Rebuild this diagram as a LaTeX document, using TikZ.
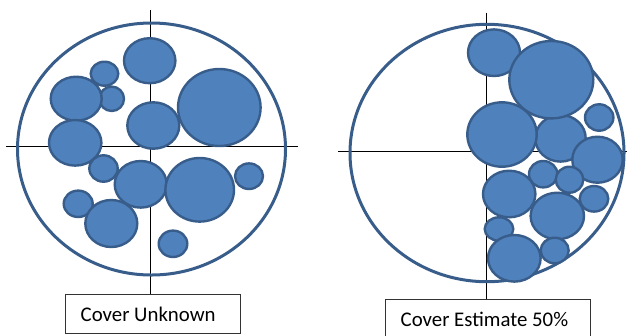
\documentclass[tikz,border=0pt]{standalone}
\usepackage{fontspec}
\setmainfont{Carlito}
\definecolor{cellfill}{HTML}{4F81BD}
\definecolor{celledge}{HTML}{385D8A}
\tikzset{
  x=1bp, y=-1bp,
  cell/.style={fill=cellfill, draw=celledge, line width=2.4bp},
  plot/.style={draw=celledge, line width=3bp},
  axis/.style={draw=black, line width=1bp},
  panelbox/.style={draw=black!80, line width=1bp, fill=white, rectangle, inner sep=0pt},
  caption/.style={inner sep=0pt, font=\fontsize{20.9}{24}\selectfont}
}
\newcommand{\cellat}[5]{\draw[cell] (#2,#3) ellipse [x radius=#4bp, y radius=#5bp];}
\begin{document}
\begin{tikzpicture}
\useasboundingbox (0,0) rectangle (627,335);
\clip (0,0) rectangle (627,335);

% ---------- left plot: cover unknown ----------
\coordinate (lL) at (6,146.7);
\coordinate (lR) at (297.7,146.7);
\coordinate (lT) at (150.7,10);
\node[panelbox, anchor=north west, minimum width=175bp, minimum height=39bp] (boxL) at (65,294) {};
\draw[axis] (lL) -- (lR);
\draw[axis] (lT) -- (lT |- boxL.north);
\draw[plot] (151.5,149) ellipse [x radius=134bp, y radius=126bp];
\cellat{a}{104.5}{73.7}{13.8}{12}
\cellat{b}{111.7}{98.8}{12.3}{12.2}
\cellat{c}{76.2}{98.7}{25.5}{22}
\cellat{d}{75.2}{142.8}{26.2}{22.8}
\cellat{e}{149.7}{60.7}{25.7}{22.5}
\cellat{f}{153.3}{125.5}{26}{23.2}
\cellat{g}{219.3}{107.5}{41.3}{38.5}
\cellat{h}{103.5}{168.5}{14.2}{13.2}
\cellat{i}{140.7}{184.3}{26}{23.3}
\cellat{j}{199.7}{189.8}{34.3}{31.8}
\cellat{k}{249}{176.2}{14}{12.8}
\cellat{l}{78.2}{203.8}{14.5}{13.2}
\cellat{m}{111.3}{223.5}{26}{23.5}
\cellat{n}{173}{243.8}{14.3}{13.2}
\node[caption, anchor=base west] (capL) at (80.5,321) {Cover Unknown};

% ---------- right plot: cover estimate ----------
\coordinate (rL) at (338,151.7);
\coordinate (rR) at (627,151.7);
\coordinate (rT) at (486,12.7);
\node[panelbox, anchor=north west, minimum width=205bp, minimum height=50bp] (boxR) at (385.3,299.3) {};
\draw[axis] (rL) -- (rR);
\draw[axis] (rT) -- (rT |- boxR.north);
\draw[plot] (487,153) ellipse [x radius=137bp, y radius=128.7bp];
\cellat{e}{560.5}{138.3}{25.2}{23.3}
\cellat{a}{494}{52.7}{26}{23.3}
\cellat{b}{551.3}{79.7}{42}{38.7}
\cellat{c}{599.2}{117.5}{14.2}{13.2}
\cellat{d}{502}{134.5}{34.7}{32.2}
\cellat{f}{597.5}{159.7}{25.2}{23}
\cellat{g}{543.2}{174.2}{14.2}{13.2}
\cellat{h}{569.5}{179.7}{13.8}{13}
\cellat{i}{509.2}{194}{26.2}{23.3}
\cellat{j}{594}{198.8}{14.3}{12.8}
\cellat{k}{557.3}{216}{26.7}{23.3}
\cellat{l}{499}{229}{14.3}{11.7}
\cellat{m}{514.3}{258.3}{26.3}{23.3}
\cellat{n}{554.7}{250.5}{14}{12.8}
\node[caption, anchor=base west] (capR) at (400.5,326.7) {Cover Estimate 50\%};
\end{tikzpicture}
\end{document}
